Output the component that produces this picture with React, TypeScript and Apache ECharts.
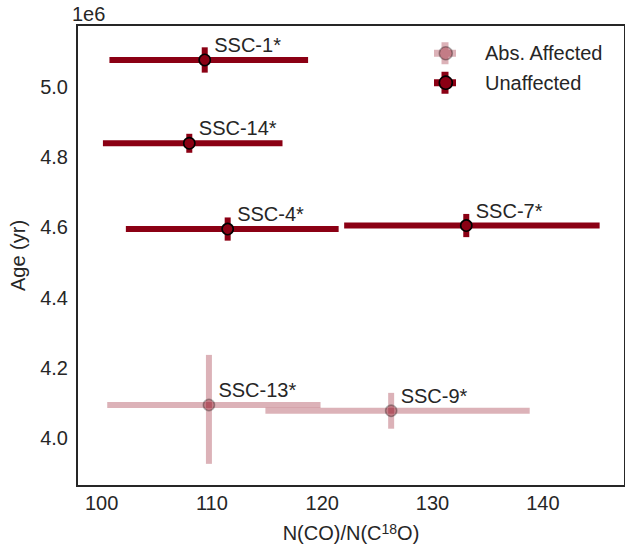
import React, { useEffect, useRef } from "react";
import * as echarts from "echarts";

// ---- Data ----
const unaffectedNames = ["SSC-1*", "SSC-14*", "SSC-4*", "SSC-7*"];
const unaffectedRatio = [109.35, 107.95, 111.43, 133.06];
const unaffectedRatioLow = [100.71, 100.12, 102.2, 121.99];
const unaffectedRatioHigh = [118.72, 116.4, 121.49, 145.15];
const unaffectedAge = [5.076e6, 4.839e6, 4.595e6, 4.605e6];
const unaffectedAgeLow = [5.04e6, 4.812e6, 4.562e6, 4.572e6];
const unaffectedAgeHigh = [5.112e6, 4.866e6, 4.628e6, 4.638e6];

const affectedNames = ["SSC-13*", "SSC-9*"];
const affectedRatio = [109.73, 126.25];
const affectedRatioLow = [100.51, 114.85];
const affectedRatioHigh = [119.85, 138.81];
const affectedAge = [4.0945e6, 4.078e6];
const affectedAgeLow = [3.927e6, 4.027e6];
const affectedAgeHigh = [4.237e6, 4.129e6];

const xTickStep = 10;
const yTickStep = 0.2e6;

const FONT = '"Liberation Sans", Arial, Helvetica, sans-serif';
const TEXT = "#262626";
const RED = "#8b0014";
const RED_A = "rgba(139,0,20,0.3)";

function rows(x: number[], xl: number[], xh: number[], y: number[], yl: number[], yh: number[]) {
  return x.map((v, i) => [v, y[i], xl[i], xh[i], yl[i], yh[i]]);
}

function makeRender(names: string[], bar: string, fill: string, edge: string, edgeW: number) {
  return (params: any, api: any) => {
    const x = api.value(0), y = api.value(1);
    const xl = api.value(2), xh = api.value(3), yl = api.value(4), yh = api.value(5);
    const c = api.coord([x, y]);
    const l = api.coord([xl, y]);
    const r = api.coord([xh, y]);
    const t = api.coord([x, yh]);
    const b = api.coord([x, yl]);
    return {
      type: "group",
      children: [
        { type: "rect", shape: { x: l[0], y: c[1] - 3, width: r[0] - l[0], height: 6 }, style: { fill: bar } },
        { type: "rect", shape: { x: c[0] - 3, y: t[1], width: 6, height: b[1] - t[1] }, style: { fill: bar } },
        { type: "circle", shape: { cx: c[0], cy: c[1], r: 5.6 }, style: { fill, stroke: edge, lineWidth: edgeW } },
        {
          type: "text",
          x: c[0] + 9.5,
          y: c[1] - 15,
          style: { text: names[params.dataIndex], fill: TEXT, fontSize: 20, fontFamily: FONT, align: "left", verticalAlign: "middle" },
        },
      ],
    };
  };
}

const CROSS = "path://M7.5,0H14.5V7.5H22V14.5H14.5V22H7.5V14.5H0V7.5H7.5Z";

export default function App() {
  const ref = useRef<HTMLDivElement>(null);
  useEffect(() => {
    if (!ref.current) return;
    const chart = echarts.init(ref.current, null, { renderer: "svg" });
    const legendCommon = {
      orient: "vertical",
      top: 36.3,
      itemGap: 5.4,
      selectedMode: false,
    };
    chart.setOption({
      animation: false,
      backgroundColor: "#ffffff",
      textStyle: { fontFamily: FONT, color: TEXT },
      grid: { left: 72, top: 25, width: 557, height: 461, show: true, borderColor: TEXT, borderWidth: 2, containLabel: false },
      xAxis: {
        type: "value",
        min: 97.77,
        max: 147.45,
        splitNumber: 5,
        minInterval: xTickStep,
        maxInterval: xTickStep,
        axisLine: { show: false },
        axisTick: { show: false },
        splitLine: { show: false },
        axisLabel: { fontSize: 20, color: TEXT, fontFamily: FONT, margin: 7, showMinLabel: false, showMaxLabel: false },
        name: "N(CO)/N(C{sup|18}O)",
        nameLocation: "middle",
        nameGap: 36,
        nameTextStyle: {
          fontSize: 20,
          color: TEXT,
          fontFamily: FONT,
          rich: { sup: { fontSize: 14, color: TEXT, fontFamily: FONT, verticalAlign: "top", padding: [0, 0, 8, 0] } },
        },
      },
      yAxis: {
        type: "value",
        min: 3.864e6,
        max: 5.1755e6,
        splitNumber: 6,
        minInterval: yTickStep,
        maxInterval: yTickStep,
        axisLine: { show: false },
        axisTick: { show: false },
        splitLine: { show: false },
        axisLabel: {
          fontSize: 20,
          color: TEXT,
          fontFamily: FONT,
          margin: 9,
          showMinLabel: false,
          showMaxLabel: false,
          formatter: (v: number) => (v / 1e6).toFixed(1),
        },
        name: "Age (yr)",
        nameLocation: "middle",
        nameGap: 49,
        nameRotate: 90,
        nameTextStyle: { fontSize: 20, color: TEXT, fontFamily: FONT },
      },
      graphic: [
        { type: "text", left: 72, top: 4, style: { text: "1e6", fontSize: 20, fill: TEXT, fontFamily: FONT } },
      ],
      legend: [
        {
          ...legendCommon,
          left: 429,
          itemWidth: 22,
          itemHeight: 22,
          textStyle: { fontSize: 20, color: TEXT, fontFamily: FONT, lineHeight: 24, padding: [0, 0, 0, 24] },
          data: [
            { name: "Abs. Affected", icon: CROSS, itemStyle: { color: RED_A, borderWidth: 0 } },
            { name: "Unaffected", icon: CROSS, itemStyle: { color: RED, borderWidth: 0 } },
          ],
        },
        {
          ...legendCommon,
          left: 433.5,
          itemWidth: 13,
          itemHeight: 13,
          formatter: () => " ",
          textStyle: { fontSize: 20, color: TEXT, fontFamily: FONT, lineHeight: 24 },
          data: [
            { name: "Abs. Affected", icon: "circle", itemStyle: { color: RED_A, borderColor: "rgba(0,0,0,0.3)", borderWidth: 1.5 } },
            { name: "Unaffected", icon: "circle", itemStyle: { color: RED, borderColor: "#000000", borderWidth: 1.6 } },
          ],
        },
      ],
      series: [
        {
          name: "Abs. Affected",
          type: "custom",
          encode: { x: [0, 2, 3], y: [1, 4, 5] },
          itemStyle: { color: RED_A },
          renderItem: makeRender(affectedNames, RED_A, RED_A, "rgba(0,0,0,0.3)", 1.5),
          data: rows(affectedRatio, affectedRatioLow, affectedRatioHigh, affectedAge, affectedAgeLow, affectedAgeHigh),
        },
        {
          name: "Unaffected",
          type: "custom",
          encode: { x: [0, 2, 3], y: [1, 4, 5] },
          itemStyle: { color: RED },
          renderItem: makeRender(unaffectedNames, RED, RED, "#000000", 1.6),
          data: rows(unaffectedRatio, unaffectedRatioLow, unaffectedRatioHigh, unaffectedAge, unaffectedAgeLow, unaffectedAgeHigh),
        },
      ],
    });
    return () => chart.dispose();
  }, []);
  return <div ref={ref} style={{ position: "absolute", left: 0, top: 0, width: 625, height: 549 }} />;
}
